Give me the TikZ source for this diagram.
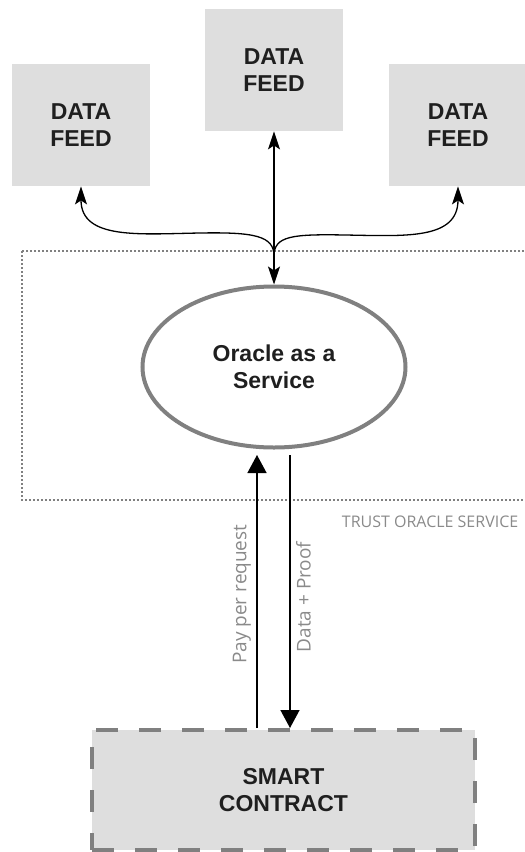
\documentclass[tikz,border=0pt]{standalone}
\usepackage{fontspec}
\setmainfont{Liberation Sans}
\newfontfamily\lblfont{Open Sans}
\usetikzlibrary{arrows.meta,shapes.geometric}
\definecolor{feedfill}{HTML}{DEDEDE}
\definecolor{rimgray}{HTML}{808080}
\definecolor{lblgray}{HTML}{8A8A8A}
\begin{document}
\begin{tikzpicture}[x=1pt, y=-1pt, thick,
    feed/.style={fill=feedfill, minimum width=138pt, minimum height=122pt, align=center, text=black!88, font=\fontsize{23}{27}\selectfont\bfseries},
    lbl/.style={text=lblgray, font=\lblfont\fontsize{16}{19}\selectfont},
    vlbl/.style={lbl, rotate=90, font=\lblfont\fontsize{19}{22}\selectfont},
    tip/.tip={Stealth[length=18pt,width=12pt,inset=4pt]},
    small/.style={line width=1.3pt, tip-},
    big/.style={line width=1.4pt, -{Triangle[length=18pt,width=19pt]}}]
                  \useasboundingbox (0,0) rectangle (525,852);
                  \node[feed] (lfeed) at (81,125) {DATA\\FEED};
                  \node[feed] (cfeed) at (274,70) {DATA\\FEED};
                  \node[feed] (rfeed) at (458,125) {DATA\\FEED};
                  % trust boundary
                  \draw [black!50, line width=2pt, dash pattern=on 2.2pt off 1.8pt] (22,251) rectangle (530,500);
                  \node[lbl, anchor=base east] (trust) at (522,527) {TRUST ORACLE SERVICE};
                  \node[draw=rimgray, line width=4pt, ellipse, minimum width=263pt, minimum height=161pt, align=center, text=black!88, font=\fontsize{23}{27}\selectfont\bfseries] (oracle) at (274,367) {Oracle as a\\Service};
                  \coordinate (hub) at (274,256);
                  \draw [small, tip-tip] (cfeed.south) -- (oracle.north);
                  \draw [small] (lfeed.south) .. controls (81,240) and (140,234) .. (200,233) .. controls (255,232) and (274,236) .. (hub);
                  \draw [small] (rfeed.south) .. controls (458,240) and (405,236) .. (345,235) .. controls (292,234) and (274,236) .. (hub);
                  \node[feed, draw=rimgray, line width=4pt, dash pattern=on 22pt off 21pt, minimum width=383pt, minimum height=120pt] (contract) at (283.5,790) {SMART\\CONTRACT};
                  \coordinate (paytip) at (257,455);
                  \coordinate (datatop) at (290,455);
                  \draw [big] (contract.north -| paytip) -- node[vlbl, above=2pt, pos=.49] (pay) {Pay per request} (paytip);
                  \draw [big] (datatop) -- node[vlbl, below=2pt, pos=.52] (data) {Data + Proof} (contract.north -| datatop);
              \end{tikzpicture}
\end{document}
